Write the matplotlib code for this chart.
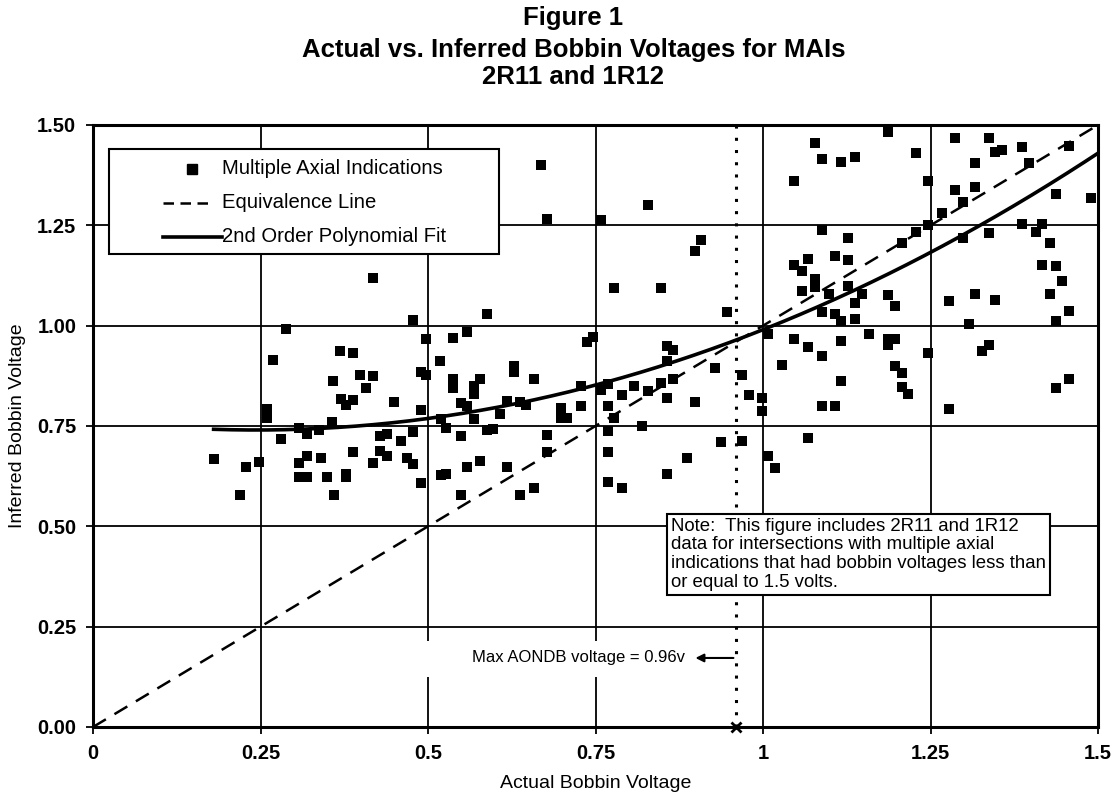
import matplotlib
matplotlib.use("Agg")
import matplotlib.pyplot as plt
import numpy as np
from matplotlib.patches import Rectangle
from matplotlib.lines import Line2D

plt.rcParams['font.family'] = ['Liberation Sans', 'DejaVu Sans']

# ---- data ----
actual = [0.18, 0.22, 0.229, 0.248, 0.259, 0.259, 0.269, 0.280, 0.288, 0.308, 0.308, 0.308,
          0.319, 0.319, 0.319, 0.338, 0.340, 0.349, 0.357, 0.358, 0.359, 0.368, 0.370, 0.378,
          0.378, 0.378, 0.388, 0.388, 0.388, 0.399, 0.408, 0.418, 0.418, 0.418, 0.428, 0.428,
          0.439, 0.439, 0.449, 0.459, 0.469, 0.478, 0.478, 0.478, 0.489, 0.489, 0.489, 0.497,
          0.497, 0.518, 0.519, 0.519, 0.527, 0.527, 0.538, 0.538, 0.538, 0.549, 0.549, 0.549,
          0.558, 0.558, 0.558, 0.568, 0.568, 0.568, 0.578, 0.578, 0.588, 0.588, 0.597, 0.608,
          0.618, 0.618, 0.628, 0.628, 0.638, 0.638, 0.647, 0.658, 0.658, 0.669, 0.678, 0.678,
          0.678, 0.698, 0.698, 0.708, 0.728, 0.728, 0.737, 0.747, 0.758, 0.758, 0.769, 0.769,
          0.769, 0.769, 0.769, 0.778, 0.778, 0.789, 0.789, 0.808, 0.819, 0.828, 0.828, 0.848,
          0.848, 0.857, 0.857, 0.857, 0.857, 0.866, 0.866, 0.887, 0.898, 0.898, 0.908, 0.929,
          0.938, 0.947, 0.968, 0.968, 0.979, 0.999, 0.999, 1.008, 1.008, 1.018, 1.028, 1.047,
          1.047, 1.047, 1.058, 1.058, 1.067, 1.067, 1.067, 1.077, 1.077, 1.077, 1.088, 1.088,
          1.088, 1.088, 1.088, 1.098, 1.108, 1.108, 1.108, 1.117, 1.117, 1.117, 1.117, 1.127,
          1.127, 1.127, 1.137, 1.137, 1.137, 1.148, 1.158, 1.187, 1.187, 1.187, 1.187, 1.197,
          1.197, 1.197, 1.208, 1.208, 1.208, 1.217, 1.228, 1.228, 1.247, 1.247, 1.247, 1.267,
          1.278, 1.278, 1.287, 1.287, 1.298, 1.298, 1.308, 1.317, 1.317, 1.317, 1.327, 1.337,
          1.337, 1.337, 1.347, 1.347, 1.357, 1.387, 1.387, 1.397, 1.408, 1.417, 1.417, 1.428,
          1.428, 1.437, 1.437, 1.437, 1.437, 1.447, 1.456, 1.456, 1.456, 1.489]
inferred = [0.669, 0.578, 0.648, 0.661, 0.792, 0.770, 0.914, 0.717, 0.992, 0.745, 0.657, 0.622,
            0.730, 0.675, 0.622, 0.739, 0.671, 0.622, 0.760, 0.863, 0.578, 0.936, 0.817, 0.802,
            0.622, 0.630, 0.933, 0.815, 0.685, 0.878, 0.844, 1.119, 0.875, 0.658, 0.726, 0.688,
            0.730, 0.675, 0.810, 0.712, 0.671, 1.014, 0.735, 0.656, 0.789, 0.885, 0.609, 0.967,
            0.877, 0.911, 0.768, 0.628, 0.744, 0.630, 0.969, 0.866, 0.844, 0.726, 0.578, 0.808,
            0.984, 0.800, 0.648, 0.850, 0.829, 0.768, 0.866, 0.662, 1.030, 0.739, 0.742, 0.780,
            0.813, 0.648, 0.899, 0.885, 0.810, 0.578, 0.802, 0.868, 0.595, 1.401, 1.266, 0.728,
            0.685, 0.796, 0.770, 0.770, 0.800, 0.850, 0.960, 0.971, 1.264, 0.840, 0.800, 0.854,
            0.737, 0.685, 0.610, 1.093, 0.770, 0.828, 0.595, 0.850, 0.751, 1.300, 0.838, 1.093,
            0.858, 0.950, 0.911, 0.821, 0.630, 0.939, 0.866, 0.670, 1.186, 0.811, 1.214, 0.895,
            0.709, 1.035, 0.878, 0.712, 0.828, 0.821, 0.788, 0.979, 0.675, 0.646, 0.902, 1.361,
            1.152, 0.967, 1.136, 1.086, 1.167, 0.946, 0.719, 1.455, 1.116, 1.097, 1.416, 1.238,
            1.035, 0.925, 0.800, 1.078, 1.173, 1.028, 0.800, 1.408, 1.012, 0.963, 0.862, 1.219,
            1.163, 1.098, 1.421, 1.056, 1.016, 1.079, 0.979, 1.077, 1.482, 0.967, 0.951, 1.050,
            0.967, 0.900, 1.205, 0.882, 0.847, 0.830, 1.431, 1.233, 1.360, 1.252, 0.932, 1.281,
            1.062, 0.792, 1.467, 1.339, 1.307, 1.218, 1.004, 1.405, 1.345, 1.078, 0.938, 1.467,
            1.230, 0.953, 1.433, 1.065, 1.438, 1.444, 1.253, 1.406, 1.234, 1.253, 1.152, 1.207,
            1.078, 1.327, 1.149, 1.012, 0.844, 1.111, 1.448, 1.037, 0.866, 1.317]

equiv_x = [0.0, 1.5]
equiv_y = [0.0, 1.5]
fit_coeffs = [0.437, -0.213, 0.766]      # 2nd order polynomial fit (a, b, c)
fit_range = [0.18, 1.5]
max_aondb = 0.96

x_ticks = [0, 0.25, 0.5, 0.75, 1.0, 1.25, 1.5]
x_ticklabels = ['0', '0.25', '0.5', '0.75', '1', '1.25', '1.5']
y_ticks = [0.0, 0.25, 0.5, 0.75, 1.0, 1.25, 1.5]
y_ticklabels = ['0.00', '0.25', '0.50', '0.75', '1.00', '1.25', '1.50']
legend_labels = ['Multiple Axial Indications', 'Equivalence Line', '2nd Order Polynomial Fit']

W, H = 1117, 800
def fx(px):
    return px / W
def fy(py):
    return 1 - py / H

# ---- figure ----
fig = plt.figure(figsize=(11.17, 8.0), dpi=100)
ax = fig.add_axes([fx(93), fy(727), (1098 - 93) / W, (727 - 125) / H])

ax.set_xlim(0, 1.5)
ax.set_ylim(0, 1.5)
ax.set_xticks(x_ticks)
ax.set_xticklabels(x_ticklabels, fontsize=14.5, fontweight='bold')
ax.set_yticks(y_ticks)
ax.set_yticklabels(y_ticklabels, fontsize=14.5, fontweight='bold')
ax.tick_params(direction='out', length=5, width=1.3, pad=7)
ax.grid(True, color='black', linewidth=1.3, zorder=0)
ax.set_axisbelow(True)
for s in ax.spines.values():
    s.set_linewidth(2.2)

# white box behind annotation text
ax.add_patch(Rectangle((0.47, 0.125), 0.46, 0.09, facecolor='white', edgecolor='none', zorder=1))

xs = np.linspace(fit_range[0], fit_range[1], 200)
ax.plot(equiv_x, equiv_y, color='black', linestyle=(0, (6, 4)), linewidth=1.8, zorder=3)
ax.plot(xs, np.polyval(fit_coeffs, xs), color='black', linewidth=2.6, zorder=3)
ax.plot([max_aondb, max_aondb], [0, 1.5], color='black', linestyle=(0, (1, 3)),
        linewidth=2.2, zorder=3)
ax.plot([max_aondb], [0], marker='x', color='black', markersize=7, mew=2, zorder=5,
        clip_on=False)
ax.scatter(actual, inferred, marker='s', s=44, color='black', zorder=4, linewidths=0)

ax.annotate('', xy=(0.895, 0.172), xytext=(max_aondb, 0.172),
            arrowprops=dict(arrowstyle='-|>', color='black', lw=1.5, mutation_scale=12),
            zorder=5)
ax.text(0.884, 0.172, 'Max AONDB voltage = 0.96v', ha='right', va='center',
        fontsize=12, zorder=5)

note = ("Note:  This figure includes 2R11 and 1R12\n"
        "data for intersections with multiple axial\n"
        "indications that had bobbin voltages less than\n"
        "or equal to 1.5 volts.")
ax.text(0.863, 0.522, note, ha='left', va='top', fontsize=13.4, linespacing=1.15, zorder=6,
        bbox=dict(boxstyle='square,pad=0.2', facecolor='white', edgecolor='black', lw=1.5))

# ---- legend (drawn manually to follow the original's proportions) ----
fig.add_artist(Rectangle((fx(109), fy(254)), (499 - 109) / W, (254 - 149) / H,
                         transform=fig.transFigure, facecolor='white', edgecolor='black',
                         linewidth=1.5, zorder=5))
row_y = [169, 203, 237]
fig.add_artist(Line2D([fx(192)], [fy(row_y[0])], marker='s', markersize=6.5, color='black',
                      linestyle='none', transform=fig.transFigure, zorder=6))
fig.add_artist(Line2D([fx(163), fx(208)], [fy(row_y[1])] * 2, color='black', linewidth=1.8,
                      linestyle=(0, (4.2, 2.6)), transform=fig.transFigure, zorder=6))
fig.add_artist(Line2D([fx(163), fx(222)], [fy(row_y[2])] * 2, color='black', linewidth=2.6,
                      transform=fig.transFigure, zorder=6))
for lab, ry in zip(legend_labels, row_y):
    fig.text(fx(222), fy(ry), lab, ha='left', va='center', fontsize=14.6, zorder=7)

ax.set_xlabel('Actual Bobbin Voltage', fontsize=14, labelpad=9)
ax.set_ylabel('Inferred Bobbin Voltage', fontsize=14, labelpad=8)

fig.text(0.5 + 15 / W, fy(18), 'Figure 1', ha='center', va='center', fontsize=18.5,
         fontweight='bold')
fig.text(0.5 + 15 / W, fy(50), 'Actual vs. Inferred Bobbin Voltages for MAIs',
         ha='center', va='center', fontsize=18.5, fontweight='bold')
fig.text(0.5 + 15 / W, fy(77), '2R11 and 1R12',
         ha='center', va='center', fontsize=18.5, fontweight='bold')

fig.savefig('out.png', dpi=100)
